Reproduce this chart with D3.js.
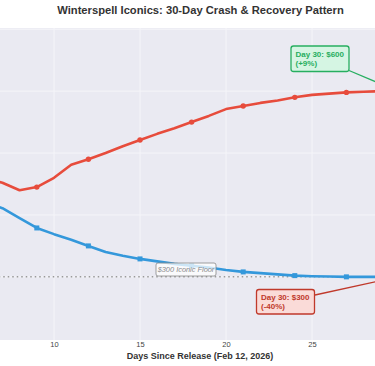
<!DOCTYPE html>
<html>
<head>
<meta charset="utf-8">
<script src="https://cdn.jsdelivr.net/npm/d3@7"></script>
<style>
  html, body { margin: 0; padding: 0; background: #fff; overflow: hidden; }
  svg { display: block; font-family: "Liberation Sans", Arial, sans-serif; }
</style>
</head>
<body>
<svg id="chart" width="375" height="366"></svg>
<script>
// ---- data ----
const days = [0,1,2,3,4,5,6,7,8,9,10,11,12,13,14,15,16,17,18,19,20,21,22,23,24,25,26,27,28,29,30];
const recoveryPrices = [550,530,510,495,480,470,460,452,440,445,460,481,490,500,511,521,531,540,550,560,571,576,581,585,590,594,596,598,599,600,600];
const crashPrices = [500,482,466,452,440,429,420,411,395,379,369,360,350,340,334,329,325,321,318,315,311,308,306,304,302,301,300.5,300,300,300,300];
const markerDays = [0,3,6,9,12,15,18,21,24,27,30];
const xGridValues = [0,5,10,15,20,25,30];
const xTickLabels = [10,15,20,25];
const yTickValues = [300,400,500,600,700];
const floorValue = 300;
const titleText = "Winterspell Iconics: 30-Day Crash & Recovery Pattern";
const xAxisTitle = "Days Since Release (Feb 12, 2026)";
const floorLabel = "$300 Iconic Floor";
const recoveryNote = ["Day 30: $600", "(+9%)"];
const crashNote = ["Day 30: $300", "(-40%)"];

// ---- layout ----
const svg = d3.select("#chart");
const plotTop = 28, plotBottom = 340;
const x = d3.scaleLinear().domain([10, 25]).range([54, 312]);
const y = d3.scaleLinear().domain([198, 702]).range([plotBottom, plotTop]);
const plotLeft = x(-0.8), plotRight = x(30.8);

const defs = svg.append("defs");
defs.append("clipPath").attr("id", "plotclip").append("rect")
  .attr("x", plotLeft).attr("y", plotTop).attr("width", plotRight - plotLeft).attr("height", plotBottom - plotTop);

svg.append("rect").attr("x", plotLeft).attr("y", plotTop)
  .attr("width", plotRight - plotLeft).attr("height", plotBottom - plotTop)
  .attr("fill", "#eaeaf2");

// grid
const grid = svg.append("g").attr("clip-path", "url(#plotclip)");
grid.selectAll("line.vx").data(xGridValues).join("line")
  .attr("x1", d => x(d)).attr("x2", d => x(d))
  .attr("y1", plotTop).attr("y2", plotBottom)
  .attr("stroke", "#f5f5f9").attr("stroke-width", 1);
grid.selectAll("line.hy").data(yTickValues).join("line")
  .attr("x1", plotLeft).attr("x2", plotRight)
  .attr("y1", d => y(d)).attr("y2", d => y(d))
  .attr("stroke", "#f5f5f9").attr("stroke-width", 1);

// floor line
svg.append("line")
  .attr("x1", plotLeft).attr("x2", plotRight)
  .attr("y1", y(floorValue)).attr("y2", y(floorValue))
  .attr("stroke", "#999").attr("stroke-width", 1.5)
  .attr("stroke-dasharray", "1.5,3");

// x axis (labels that fall inside the visible window)
const xAxis = d3.axisBottom(x).tickValues(xTickLabels).tickSize(0).tickPadding(0);
const gx = svg.append("g").attr("transform", `translate(0,${plotBottom + 2})`).call(xAxis);
gx.select(".domain").remove();
gx.selectAll("text").attr("font-size", 7.5).attr("fill", "#444")
  .attr("font-family", "'Liberation Sans', Arial, sans-serif").attr("dy", "0.71em");

svg.append("text").attr("x", 200).attr("y", 359)
  .attr("text-anchor", "middle").attr("font-size", 9).attr("font-weight", "bold")
  .attr("fill", "#333").text(xAxisTitle);

// title
svg.append("text").attr("x", 200.5).attr("y", 14)
  .attr("text-anchor", "middle").attr("font-size", 11.2).attr("font-weight", "bold")
  .attr("fill", "#333").text(titleText);

// series
const line = d3.line().x((d, i) => x(days[i])).y(d => y(d));
const series = svg.append("g").attr("clip-path", "url(#plotclip)");

series.append("path").datum(crashPrices).attr("d", line)
  .attr("fill", "none").attr("stroke", "#3498db").attr("stroke-width", 2.6)
  .attr("stroke-linejoin", "round");
series.selectAll("rect.cm").data(markerDays).join("rect")
  .attr("x", d => x(d) - 2.5).attr("y", d => y(crashPrices[days.indexOf(d)]) - 2.5)
  .attr("width", 5).attr("height", 5).attr("fill", "#3498db");

series.append("path").datum(recoveryPrices).attr("d", line)
  .attr("fill", "none").attr("stroke", "#e74c3c").attr("stroke-width", 2.6)
  .attr("stroke-linejoin", "round");
series.selectAll("circle.rm").data(markerDays).join("circle")
  .attr("cx", d => x(d)).attr("cy", d => y(recoveryPrices[days.indexOf(d)]))
  .attr("r", 2.7).attr("fill", "#e74c3c");

// floor label
const fl = svg.append("g");
fl.append("rect").attr("x", 156).attr("y", 263).attr("width", 60).attr("height", 13)
  .attr("rx", 2).attr("fill", "rgba(255,255,255,0.75)").attr("stroke", "#888").attr("stroke-width", 0.8);
fl.append("text").attr("x", 186).attr("y", 272).attr("text-anchor", "middle")
  .attr("font-size", 7.4).attr("font-style", "italic").attr("fill", "#888").text(floorLabel);

// annotations
function annotate(lines, bx, by, bw, bh, stroke, fill, ax0, ay0, day, value) {
  svg.append("line").attr("x1", ax0).attr("y1", ay0)
    .attr("x2", x(day)).attr("y2", y(value))
    .attr("stroke", stroke).attr("stroke-width", 1.3);
  svg.append("rect").attr("x", bx).attr("y", by).attr("width", bw).attr("height", bh)
    .attr("rx", 2.5).attr("fill", fill).attr("stroke", stroke).attr("stroke-width", 1.3);
  const t = svg.append("text").attr("font-size", 8).attr("font-weight", "bold").attr("fill", stroke);
  lines.forEach((s, i) => {
    t.append("tspan").attr("x", bx + 4.5).attr("y", by + 10.5 + i * 9.3).text(s);
  });
}
annotate(recoveryNote, 291, 46, 58, 25.5, "#27ae60", "#d5f5e3", 349, 70.5, 30, 600);
annotate(crashNote, 256.5, 289.5, 58, 24.5, "#c0392b", "#fadbd8", 315, 295, 30, 300);
</script>
</body>
</html>
